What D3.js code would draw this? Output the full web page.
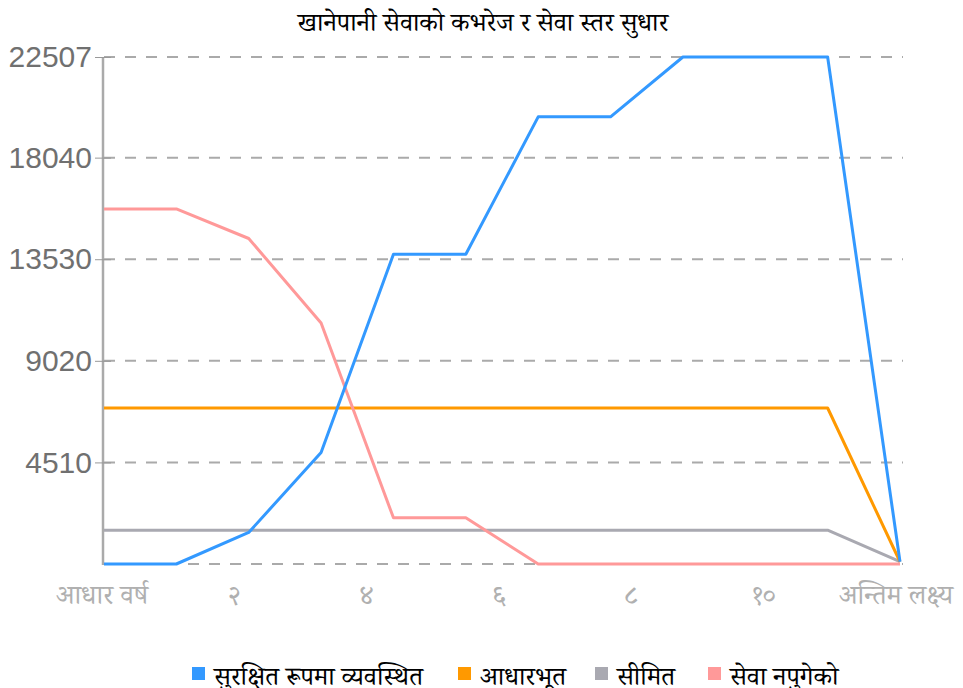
<!DOCTYPE html>
<html>
<head>
<meta charset="utf-8">
<script src="https://cdn.jsdelivr.net/npm/d3@7"></script>
<style>
  body { margin: 0; background: #fff; }
  svg { display: block; }
</style>
</head>
<body>
<svg id="chart"></svg>
<script>
// chart data
const categories = ["आधार वर्ष", "१", "२", "३", "४", "५", "६", "७", "८", "९", "१०", "अन्तिम लक्ष्य"];
const xTickLabels = ["आधार वर्ष", "२", "४", "६", "८", "१०", "अन्तिम लक्ष्य"];
const yTicks = [4510, 9020, 13530, 18040, 22507];
const yMax = 22507;

const seriesNames = ["सुरक्षित रूपमा व्यवस्थित", "आधारभूत", "सीमित", "सेवा नपुगेको"];
const safeValues = [0, 0, 1400, 4950, 13750, 13750, 19850, 19850, 22507, 22507, 22507, 100];
const basicValues = [6925, 6925, 6925, 6925, 6925, 6925, 6925, 6925, 6925, 6925, 6925, 100];
const limitedValues = [1500, 1500, 1500, 1500, 1500, 1500, 1500, 1500, 1500, 1500, 1500, 100];
const noServiceValues = [15760, 15760, 14450, 10700, 2050, 2050, 0, 0, 0, 0, 0, 0];
const colors = ["#3399ff", "#ff9900", "#a9a9b1", "#ff9999"];

const title = "खानेपानी सेवाको कभरेज र सेवा स्तर सुधार";

const w = 963, h = 688;
const plotLeft = 104, plotRight = 900, plotTop = 57, plotBottom = 564;
const devFont = "'Noto Serif Devanagari', 'Lohit Devanagari', 'FreeSerif', serif";

const svg = d3.select('#chart').attr('width', w).attr('height', h);

const x = d3.scalePoint().domain(categories).range([plotLeft, plotRight]);
const xLab = d3.scalePoint().domain(xTickLabels).range([plotLeft - 2, plotRight - 4]);
const y = d3.scaleLinear().domain([0, yMax]).range([plotBottom, plotTop]);

// title
svg.append('text')
    .attr('x', 483).attr('y', 31)
    .attr('text-anchor', 'middle')
    .style('font-family', devFont)
    .style('font-size', '26px')
    .attr('fill', '#000')
    .text(title);

// dashed grid lines
svg.append('g')
    .selectAll('line')
    .data([0].concat(yTicks))
    .join('line')
    .attr('x1', plotLeft).attr('x2', plotRight + 3)
    .attr('y1', d => y(d)).attr('y2', d => y(d))
    .attr('stroke', '#aaaaaa')
    .attr('stroke-width', 2)
    .attr('stroke-dasharray', '11,10');

// y axis
const yAxis = d3.axisLeft(y).tickValues(yTicks).tickSize(8).tickPadding(3).tickFormat(d => d);
const ya = svg.append('g').attr('transform', `translate(${plotLeft - 1},0)`).call(yAxis);
ya.select('.domain').attr('stroke', '#aaaaaa').attr('stroke-width', 2.5)
    .attr('d', `M0,${plotTop}V${plotBottom + 1}`);
ya.selectAll('.tick line').attr('stroke', '#999').attr('x2', 8).attr('x1', -8);
ya.selectAll('.tick text')
    .attr('fill', '#707070')
    .style('font-family', "'Liberation Sans', Arial, sans-serif")
    .style('font-size', '30px');

// x tick labels
svg.append('g')
    .selectAll('text')
    .data(xTickLabels)
    .join('text')
    .attr('x', d => xLab(d))
    .attr('y', 604)
    .attr('text-anchor', 'middle')
    .attr('fill', '#b0b0b0')
    .style('font-family', devFont)
    .style('font-size', '27px')
    .text(d => d);

// lines
const allSeries = [safeValues, basicValues, limitedValues, noServiceValues];
const lineGen = d3.line()
    .x((d, i) => x(categories[i]))
    .y(d => y(d));

const order = [2, 1, 3, 0];
svg.append('g')
    .selectAll('path')
    .data(order)
    .join('path')
    .attr('d', k => lineGen(allSeries[k]))
    .attr('fill', 'none')
    .attr('stroke', k => colors[k])
    .attr('stroke-width', 3)
    .attr('stroke-linejoin', 'round');

// legend
const legendX = [192, 458, 595, 708];
const legend = svg.append('g')
    .selectAll('g')
    .data(seriesNames)
    .join('g')
    .attr('transform', (d, i) => `translate(${legendX[i]},667)`);
legend.append('rect')
    .attr('width', 13).attr('height', 13)
    .attr('fill', (d, i) => colors[i]);
legend.append('text')
    .attr('x', 22).attr('y', 18)
    .style('font-family', devFont)
    .style('font-size', '26px')
    .attr('fill', '#000')
    .text(d => d);
</script>
</body>
</html>
